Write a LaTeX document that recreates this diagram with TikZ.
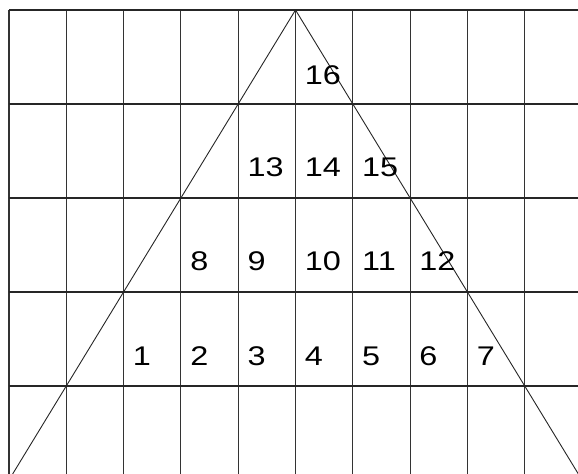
\documentclass[tikz,border=0pt]{standalone}
\usepackage{fontspec}
\newfontfamily\numfont[FakeStretch=1.2]{Liberation Sans}
\usetikzlibrary{calc}

\begin{document}
\begin{tikzpicture}[
  x=57.3pt, y=94pt,
  gridv/.style={line width=1.1pt, black!80},
  gridh/.style={line width=1.3pt, black!85},
  side/.style={line width=0.9pt, black!85},
  num/.style={anchor=west, inner sep=0pt, font=\numfont\fontsize{27}{30}\selectfont}
]
  \useasboundingbox (-0.157,0.106) rectangle (9.93,-4.926);
  \begin{scope}
  \clip (-0.157,0.106) rectangle (9.93,-4.926);
  % grid
  \foreach \c in {0,...,9} \draw[gridv] (\c,0) -- (\c,-5);
  \foreach \r in {0,...,4} \draw[gridh] (0,-\r) -- (10,-\r);
  % the two sides
  \coordinate (apex) at (5,0);
  \coordinate (baseL) at (0,-5);
  \coordinate (baseR) at (10,-5);
  \draw[side] (baseL) -- (apex) -- (baseR);
  \end{scope}

  % numbers
  \node[num] (n16) at (5.16,-0.69) {16};

  \node[num] (n13) at (4.16,-1.67) {13};
  \node[num] (n14) at (5.16,-1.67) {14};
  \node[num] (n15) at (6.16,-1.67) {15};

  \node[num] (n8)  at (3.16,-2.67) {8};
  \node[num] (n9)  at (4.16,-2.67) {9};
  \node[num] (n10) at (5.16,-2.67) {10};
  \node[num] (n11) at (6.16,-2.67) {11};
  \node[num] (n12) at (7.16,-2.67) {12};

  \node[num] (n1) at (2.16,-3.68) {1};
  \node[num] (n2) at (3.16,-3.68) {2};
  \node[num] (n3) at (4.16,-3.68) {3};
  \node[num] (n4) at (5.16,-3.68) {4};
  \node[num] (n5) at (6.16,-3.68) {5};
  \node[num] (n6) at (7.16,-3.68) {6};
  \node[num] (n7) at (8.16,-3.68) {7};
\end{tikzpicture}
\end{document}
